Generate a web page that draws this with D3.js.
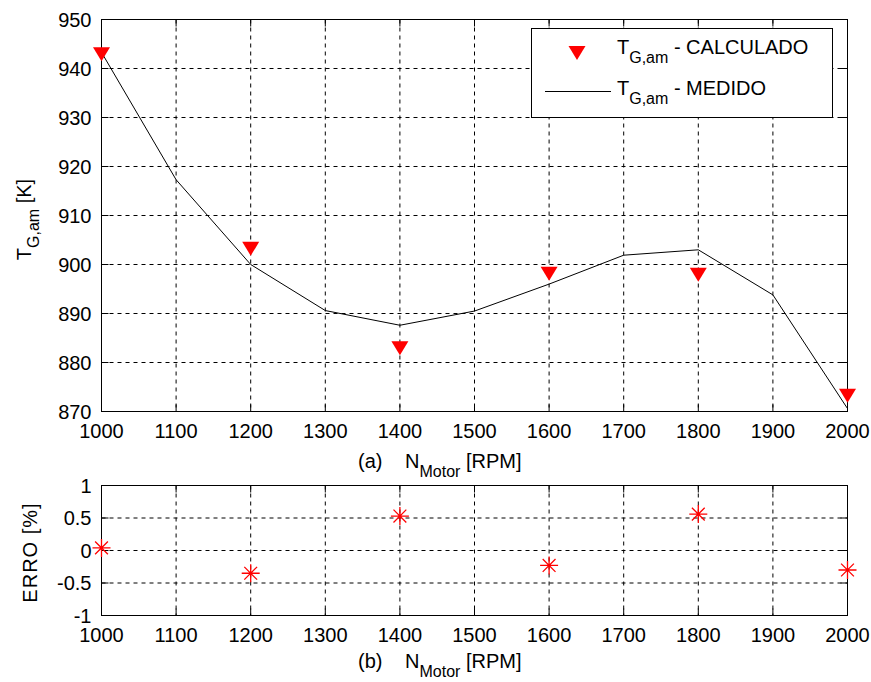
<!DOCTYPE html>
<html>
<head>
<meta charset="utf-8">
<script src="https://cdn.jsdelivr.net/npm/d3@7"></script>
<style>
  html, body { margin: 0; padding: 0; background: #fff; }
  svg { display: block; }
  text { font-family: "Liberation Sans", Arial, Helvetica, sans-serif; font-size: 20px; fill: #000; }
</style>
</head>
<body>
<svg id="chart" width="871" height="682"></svg>
<script>
// Engine speed (RPM) at which the exhaust temperature was measured
const rpmMedido = [1000, 1100, 1200, 1300, 1400, 1500, 1600, 1700, 1800, 1900, 2000];
// Measured exhaust gas temperature T_G,am [K]
const tgMedido = [943.3, 917.3, 900.0, 890.6, 887.6, 890.5, 896.0, 901.9, 903.0, 893.8, 870.6];
// Engine speeds of the model calculation
const rpmCalculado = [1000, 1200, 1400, 1600, 1800, 2000];
// Calculated exhaust gas temperature T_G,am [K]
const tgCalculado = [942.9, 903.2, 882.9, 898.1, 897.9, 873.2];
// Relative error between measured and calculated temperature [%]
const erroPct = [0.04, -0.35, 0.53, -0.23, 0.56, -0.30];

// Axis ticks
const xTicks = [1000, 1100, 1200, 1300, 1400, 1500, 1600, 1700, 1800, 1900, 2000];
const yTicksTemp = [870, 880, 890, 900, 910, 920, 930, 940, 950];
const yTicksErro = [-1, -0.5, 0, 0.5, 1];

const svg = d3.select("#chart");
svg.append("rect").attr("width", 871).attr("height", 682).attr("fill", "#fff");

const left = 101.5, right = 847.5;
const x = d3.scaleLinear().domain([1000, 2000]).range([left, right]);

const panelTop = { top: 19.5, bottom: 411.5 };
const panelBot = { top: 485.5, bottom: 615.5 };
const yTemp = d3.scaleLinear().domain([870, 950]).range([panelTop.bottom, panelTop.top]);
const yErro = d3.scaleLinear().domain([-1, 1]).range([panelBot.bottom, panelBot.top]);

const TICK = 7;

// Grid, inward ticks, box and tick labels for one panel
function drawFrame(g, y, yTicks, panel) {
  const grid = g.append("g").attr("stroke", "#000").attr("stroke-width", 1)
    .attr("stroke-dasharray", "4,4");
  xTicks.slice(1, -1).forEach(t => {
    grid.append("line").attr("x1", x(t)).attr("x2", x(t))
      .attr("y1", panel.top).attr("y2", panel.bottom);
  });
  yTicks.slice(1, -1).forEach(t => {
    grid.append("line").attr("x1", left).attr("x2", right)
      .attr("y1", y(t)).attr("y2", y(t));
  });

  const ticks = g.append("g").attr("stroke", "#000").attr("stroke-width", 1);
  xTicks.forEach(t => {
    ticks.append("line").attr("x1", x(t)).attr("x2", x(t))
      .attr("y1", panel.bottom).attr("y2", panel.bottom - TICK);
    ticks.append("line").attr("x1", x(t)).attr("x2", x(t))
      .attr("y1", panel.top).attr("y2", panel.top + TICK);
  });
  yTicks.forEach(t => {
    ticks.append("line").attr("x1", left).attr("x2", left + TICK)
      .attr("y1", y(t)).attr("y2", y(t));
    ticks.append("line").attr("x1", right).attr("x2", right - TICK)
      .attr("y1", y(t)).attr("y2", y(t));
  });

  g.append("rect")
    .attr("x", left).attr("y", panel.top)
    .attr("width", right - left).attr("height", panel.bottom - panel.top)
    .attr("fill", "none").attr("stroke", "#000").attr("stroke-width", 1);

  g.append("g").selectAll("text").data(xTicks).join("text")
    .attr("x", d => x(d)).attr("y", panel.bottom + 26)
    .attr("text-anchor", "middle").text(d => String(d));

  g.append("g").selectAll("text").data(yTicks).join("text")
    .attr("x", left - 10).attr("y", d => y(d)).attr("dy", "0.36em")
    .attr("text-anchor", "end").text(d => String(d));
}

function xLabel(g, tag, baseline) {
  const t = g.append("text").attr("y", baseline);
  t.append("tspan").attr("x", 358).text(tag);
  t.append("tspan").attr("x", 405).text("N");
  t.append("tspan").attr("dy", 9).style("font-size", "16px").text("Motor");
  t.append("tspan").attr("dy", -9).text(" [RPM]");
}

// ---- Panel (a): temperature ----
const gA = svg.append("g");
drawFrame(gA, yTemp, yTicksTemp, panelTop);

const line = d3.line().x(d => x(d[0])).y(d => yTemp(d[1]));
gA.append("path")
  .datum(d3.zip(rpmMedido, tgMedido))
  .attr("d", line)
  .attr("fill", "none").attr("stroke", "#000").attr("stroke-width", 1);

const tri = "M-8.5,-7L8.5,-7L0,7Z";
gA.append("g").selectAll("path").data(d3.zip(rpmCalculado, tgCalculado)).join("path")
  .attr("d", tri)
  .attr("transform", d => `translate(${x(d[0])},${yTemp(d[1])})`)
  .attr("fill", "#ff0000");

// y label with subscript
{
  const t = gA.append("text")
    .attr("transform", `translate(31,${(panelTop.top + panelTop.bottom) / 2 + 4}) rotate(-90)`)
    .attr("text-anchor", "middle");
  t.append("tspan").text("T");
  t.append("tspan").attr("dy", 8).style("font-size", "16px").text("G,am");
  t.append("tspan").attr("dy", -8).text(" [K]");
}
xLabel(gA, "(a)", 468);

// Legend
{
  const lg = gA.append("g");
  lg.append("rect").attr("x", 531.5).attr("y", 28.5).attr("width", 301).attr("height", 89)
    .attr("fill", "#fff").attr("stroke", "#000").attr("stroke-width", 1);
  lg.append("path").attr("d", tri).attr("transform", "translate(577,53)").attr("fill", "#ff0000");
  lg.append("line").attr("x1", 545).attr("x2", 611).attr("y1", 91.5).attr("y2", 91.5)
    .attr("stroke", "#000").attr("stroke-width", 1);
  [["CALCULADO", 54], ["MEDIDO", 95]].forEach(([name, yb]) => {
    const t = lg.append("text").attr("x", 617).attr("y", yb);
    t.append("tspan").text("T");
    t.append("tspan").attr("dy", 9).style("font-size", "16px").text("G,am");
    t.append("tspan").attr("dy", -9).text(" - " + name);
  });
}

// ---- Panel (b): relative error ----
const gB = svg.append("g");
drawFrame(gB, yErro, yTicksErro, panelBot);

const star = "M-9,0L9,0M0,-9L0,9M-6.4,-6.4L6.4,6.4M-6.4,6.4L6.4,-6.4";
gB.append("g").selectAll("path").data(d3.zip(rpmCalculado, erroPct)).join("path")
  .attr("d", star)
  .attr("transform", d => `translate(${x(d[0])},${yErro(d[1])})`)
  .attr("fill", "none").attr("stroke", "#ff0000").attr("stroke-width", 1.3);

gB.append("text")
  .attr("transform", `translate(37,${(panelBot.top + panelBot.bottom) / 2 + 2}) rotate(-90)`)
  .attr("text-anchor", "middle").style("letter-spacing", "1px")
  .text("ERRO [%]");
xLabel(gB, "(b)", 668);
</script>
</body>
</html>
